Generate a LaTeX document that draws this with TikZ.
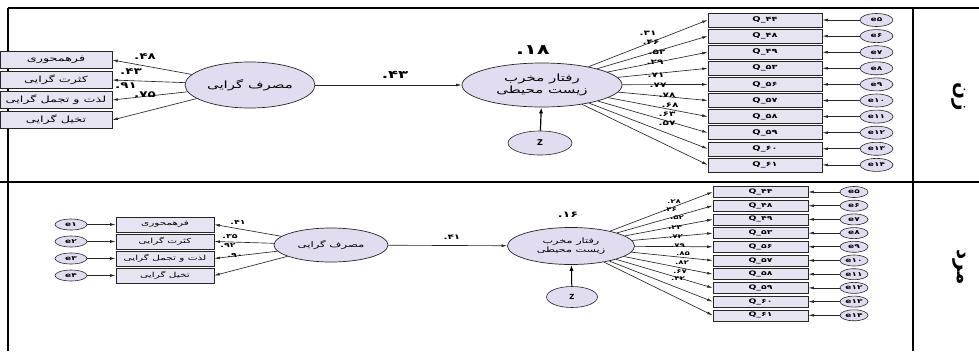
\documentclass[tikz,border=0pt]{standalone}
\usepackage{fontspec}
\TeXXeTstate=1
\newfontfamily\fa[Script=Arabic,FakeStretch=1.5]{DejaVu Sans}
\newfontfamily\fah[Script=Arabic]{DejaVu Sans}
\newcommand\dn[1]{.\kern0pt#1}
\usetikzlibrary{arrows.meta,shapes.geometric}
\definecolor{boxfill}{HTML}{E7E4F1}
\definecolor{ellfill}{HTML}{E2DCF0}
\begin{document}
\begin{tikzpicture}[x=1pt,y=-1pt,
  obs/.style={draw=black!85,line width=0.6pt,fill=boxfill,inner sep=0pt,font=\fa\fontsize{8.5}{9}\selectfont},
  lat/.style={ellipse,draw=black!85,line width=0.7pt,fill=ellfill,inner sep=0pt,align=center,font=\fa\fontsize{10}{12}\selectfont},
  err/.style={ellipse,draw=black!85,line width=0.6pt,fill=ellfill,inner sep=0pt,font=\fa\bfseries\fontsize{6}{6}\selectfont},
  arr/.style={-{Latex[length=5.5pt,width=2.8pt]},line width=0.65pt,draw=black!85},
  zarr/.style={-{Latex[length=6pt,width=4pt]},line width=1.2pt},
  coef/.style={font=\fa\bfseries\fontsize{7}{7}\selectfont,inner sep=0pt},
  frame/.style={line width=1.4pt,draw=black},
  head/.style={font=\fah\bfseries\fontsize{20}{22}\selectfont,rotate=-90}]
\useasboundingbox (0,0) rectangle (979,351);
% table frame
\draw[frame] (8,8) -- (979,8);
\draw[frame] (8,8) -- (8,351);
\draw[frame] (0,182) -- (979,182);
\draw[frame] (913,8) -- (913,351);
\node[head] (zan) at (959,97) {\beginR زن\endR};
\node[head] (mard) at (959,267) {\beginR مرد\endR};
% ================= top panel =================
\node[obs,minimum width=112pt,minimum height=17pt] (ta1) at (56,60) {\beginR فرهمحوری\endR};
\node[obs,minimum width=112pt,minimum height=17pt] (ta2) at (56,80) {\beginR کثرت گرایی\endR};
\node[obs,minimum width=112pt,minimum height=17pt] (ta3) at (56,100) {\beginR لذت و تجمل گرایی\endR};
\node[obs,minimum width=112pt,minimum height=17pt] (ta4) at (56,120) {\beginR تخیل گرایی\endR};
\node[lat,minimum width=130pt,minimum height=46pt] (tc1) at (250,85) {\beginR مصرف گرایی\endR};
\node[lat,minimum width=160pt,minimum height=44pt] (tc2) at (542,85) {\beginR رفتار مخرب\endR\\\beginR زیست محیطی\endR};
\node[err,minimum width=64pt,minimum height=24pt,font=\fah\bfseries\fontsize{8}{8}\selectfont] (tz) at (540,143) {Z};
\foreach \i in {1,...,4} \draw[arr] (tc1) -- (ta\i.east);
\draw[arr] (tc1) -- (tc2);
\draw[zarr] (tz) -- (tc2);
\foreach \q/\e [count=\i from 0] in {۴۴/۵,۴۸/۶,۴۹/۷,۵۳/۸,۵۶/۹,۵۷/۱۰,۵۸/۱۱,۵۹/۱۲,۶۰/۱۳,۶۱/۱۴}{
  \node[obs,minimum width=114pt,minimum height=14pt,font=\fa\bfseries\fontsize{6.5}{7}\selectfont] (tq\i) at (765,20+16.1*\i) {Q\_\q};
  \node[err,minimum width=33pt,minimum height=13pt] (te\i) at (876.5,20+16.1*\i) {e\e};
  \draw[arr] (te\i) -- (tq\i.east);
  \draw[arr] (tc2) -- (tq\i.west);
}
\node[coef,font=\fa\bfseries\fontsize{9}{9}\selectfont] (tl1) at (145,57) {\dn{۴۸}};
\node[coef,font=\fa\bfseries\fontsize{9}{9}\selectfont] (tl2) at (131,72) {\dn{۴۳}};
\node[coef,font=\fa\bfseries\fontsize{9}{9}\selectfont] (tl3) at (126,86) {\dn{۹۱}};
\node[coef,font=\fa\bfseries\fontsize{9}{9}\selectfont] (tl4) at (145,95) {\dn{۷۵}};
\node[coef,font=\fa\bfseries\fontsize{11}{11}\selectfont] (tp) at (395,75) {\dn{۴۳}};
\node[coef,font=\fa\bfseries\fontsize{14}{14}\selectfont] (tr) at (533,50) {\dn{۱۸}};
\foreach \v/\x/\y [count=\i] in {۳۱/648/33,۴۶/651/42,۵۲/657/52,۲۹/655/62,۷۱/656/75,۷۷/658/85,۷۸/667/95,۶۸/670/105,۶۳/667/114,۵۷/667/123}
  \node[coef] (tf\i) at (\x,\y) {\dn{\v}};
% ================= bottom panel =================
\foreach \t/\e [count=\i from 0] in {{\beginR فرهمحوری\endR}/۱,{\beginR کثرت گرایی\endR}/۲,{\beginR لذت و تجمل گرایی\endR}/۳,{\beginR تخیل گرایی\endR}/۴}{
  \node[obs,minimum width=98pt,minimum height=15pt,font=\fa\fontsize{7}{7}\selectfont] (ba\i) at (165,224.5+17*\i) {\t};
  \node[err,minimum width=32pt,minimum height=11pt] (bee\i) at (71,224.5+17*\i) {e\e};
  \draw[arr] (bee\i) -- (ba\i.west);
}
\node[lat,minimum width=114pt,minimum height=34pt,font=\fa\fontsize{7.8}{9}\selectfont] (bc1) at (331,245) {\beginR مصرف گرایی\endR};
\node[lat,minimum width=127pt,minimum height=37pt,font=\fa\fontsize{7.5}{9}\selectfont] (bc2) at (571,246) {\beginR رفتار مخرب\endR\\\beginR زیست محیطی\endR};
\node[err,minimum width=51pt,minimum height=21pt,font=\fah\bfseries\fontsize{7}{7}\selectfont] (bz) at (572,297) {Z};
\foreach \i in {0,...,3} \draw[arr] (bc1) -- (ba\i.east);
\draw[arr] (bc1) -- (bc2);
\draw[zarr,line width=1pt] (bz) -- (bc2);
\foreach \q/\e [count=\i from 0] in {۴۴/۵,۴۸/۶,۴۹/۷,۵۳/۸,۵۶/۹,۵۷/۱۰,۵۸/۱۱,۵۹/۱۲,۶۰/۱۳,۶۱/۱۴}{
  \node[obs,minimum width=95pt,minimum height=11pt,font=\fa\bfseries\fontsize{6.2}{6}\selectfont] (bq\i) at (760.5,192+13.7*\i) {Q\_\q};
  \node[err,minimum width=28pt,minimum height=11pt] (be\i) at (854,192+13.7*\i) {e\e};
  \draw[arr] (be\i) -- (bq\i.east);
  \draw[arr] (bc2) -- (bq\i.west);
}
\node[coef,font=\fa\bfseries\fontsize{6.3}{7}\selectfont] (bl1) at (238,222) {\dn{۴۱}};
\node[coef,font=\fa\bfseries\fontsize{6.3}{7}\selectfont] (bl2) at (230,236) {\dn{۳۵}};
\node[coef,font=\fa\bfseries\fontsize{6.3}{7}\selectfont] (bl3) at (228,245) {\dn{۹۲}};
\node[coef,font=\fa\bfseries\fontsize{6.3}{7}\selectfont] (bl4) at (235,255) {\dn{۹۰}};
\node[coef,font=\fa\bfseries\fontsize{7}{8}\selectfont] (bp) at (452,237) {\dn{۴۱}};
\node[coef,font=\fa\bfseries\fontsize{8.5}{9}\selectfont] (br) at (568,215) {\dn{۱۶}};
\foreach \v/\x/\y [count=\i] in {۲۸/674/202,۴۶/670/210,۵۲/677/218,۲۳/675/228,۷۲/676/237,۷۹/678/246,۸۵/683/254,۸۲/682/263,۶۷/680/272,۴۲/678/279}
  \node[coef,font=\fa\bfseries\fontsize{5.8}{6}\selectfont] (bf\i) at (\x,\y) {\dn{\v}};
\end{tikzpicture}
\end{document}
